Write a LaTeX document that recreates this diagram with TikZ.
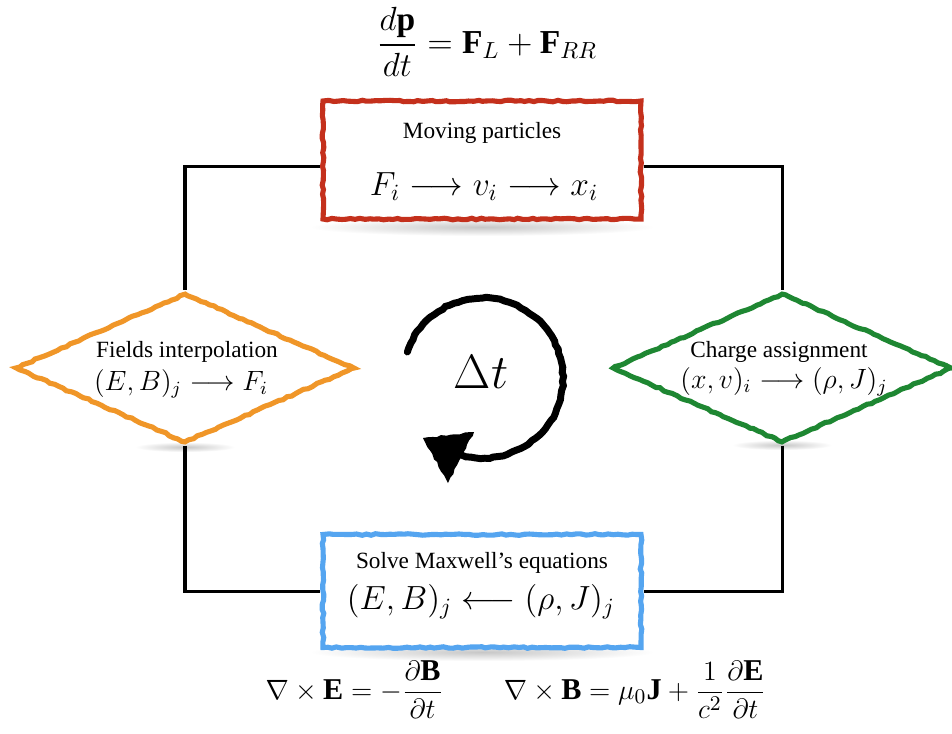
\documentclass[tikz,border=0pt]{standalone}
\usepackage{amsmath}
\usepackage{fontspec}
\setmainfont{Liberation Serif}
\usetikzlibrary{shapes.geometric,decorations.pathmorphing,calc}
\definecolor{cred}{RGB}{196,48,28}
\definecolor{corange}{RGB}{240,150,40}
\definecolor{cgreen}{RGB}{30,135,50}
\definecolor{cblue}{RGB}{85,165,240}
\begin{document}
\begin{tikzpicture}[x=0.43pt,y=-0.43pt,
 rough/.style={decorate,decoration={random steps,segment length=2pt,amplitude=0.35pt}},
 procbox/.style={draw=#1, line width=2.2pt, fill=white, rough, minimum width=318*0.43pt, minimum height=118*0.43pt, inner sep=0pt},
 decbox/.style={diamond, draw=#1, line width=2.2pt, fill=white, rough, minimum width=340*0.43pt, minimum height=150*0.43pt, inner sep=0pt, aspect=2.27},
 link/.style={line width=1.3pt, black},
 lbl/.style={inner sep=0pt, font=\normalsize},
 shadowblur/.style={inner color=black!22, outer color=white},
]
\useasboundingbox (0,0) rectangle (952,733);
\fill[white] (0,0) rectangle (952,733);
% shadows
\shade[shadowblur] (482,227) ellipse (172 and 9);
\shade[shadowblur] (482,652) ellipse (172 and 9);
\shade[shadowblur] (185,447) ellipse (50 and 5);
\shade[shadowblur] (782,445) ellipse (50 and 5);
% top equation
\node[font=\Large] (eqtop) at (487,42) {$\dfrac{d\mathbf{p}}{dt} = \mathbf{F}_L + \mathbf{F}_{RR}$};
% red box
\node[procbox=cred] (red) at (482,160) {};
\node[lbl] (redt) at (482,133) {Moving particles};
\node[lbl,font=\Large] (redm) at (484,187) {$F_i \longrightarrow v_i \longrightarrow x_i$};
% orange diamond
\node[decbox=corange] (orng) at (185,368) {};
\node[lbl] (orngt) at (187,352) {Fields interpolation};
\node[lbl,font=\large] (orngm) at (181,384) {$(E,B)_j \longrightarrow F_i$};
% green diamond
\node[decbox=cgreen] (grn) at (782,368) {};
\node[lbl] (grnt) at (779,352) {Charge assignment};
\node[lbl,font=\large] (grnm) at (784,382) {$(x,v)_i \longrightarrow (\rho,J)_j$};
% blue box
\node[procbox=cblue, minimum height=113*0.43pt] (blue) at (482,591) {};
\node[lbl] (bluet) at (482,563) {Solve Maxwell's equations};
\node[lbl,font=\Large] (bluem) at (481,602) {$(E,B)_j \longleftarrow (\rho,J)_j$};
% connectors
\draw[link] ([yshift=-3pt]red.west) -| (orng.north);
\draw[link] (orng.south) |- (blue.west);
\draw[link] ([yshift=-3pt]red.east) -| (grn.north);
\draw[link] (grn.south) |- (blue.east);
% cycle arrow
\coordinate (cyc) at (483,378);
\draw[line width=3pt, line cap=round, rough] (cyc) ++(199:80) arc[start angle=199, end angle=465, radius=80];
\fill[rough] (423,438) -- (474,432) -- (448,483) -- cycle;
\node[font=\huge] (dt) at (481,372) {$\Delta t$};
% bottom equations
\node[font=\fontsize{13}{15}\selectfont] (eqbot) at (516,690) {$\nabla\times\mathbf{E} = -\dfrac{\partial\mathbf{B}}{\partial t} \qquad \nabla\times\mathbf{B} = \mu_0\mathbf{J} + \dfrac{1}{c^2}\dfrac{\partial\mathbf{E}}{\partial t}$};
\end{tikzpicture}
\end{document}
